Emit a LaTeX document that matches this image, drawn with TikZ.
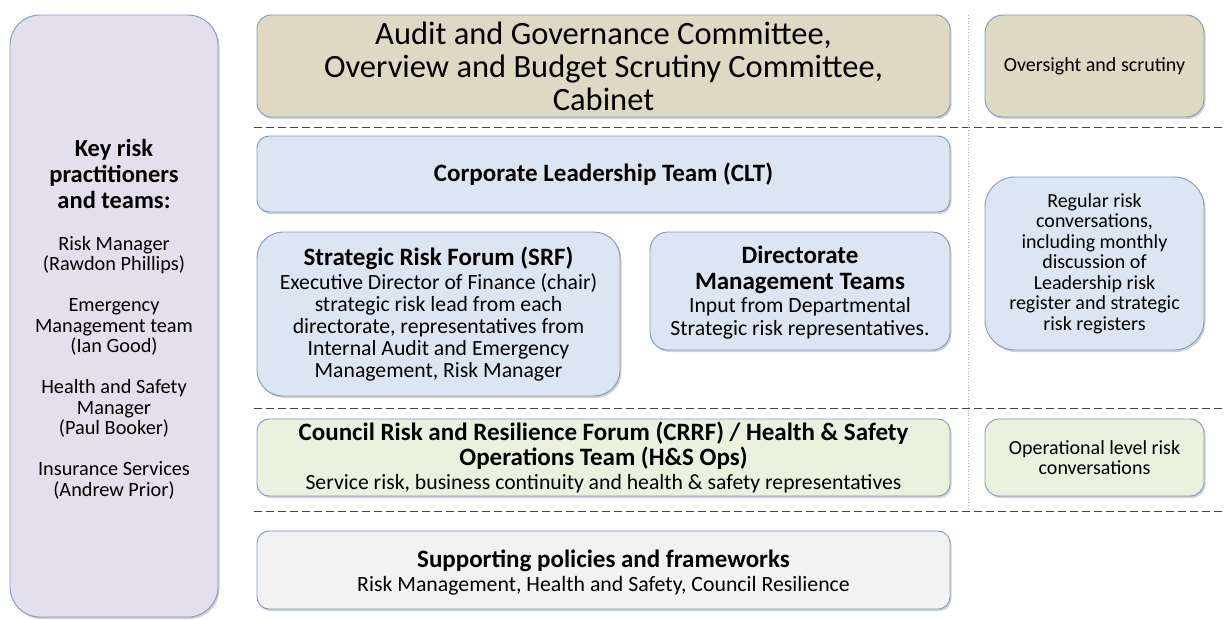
\documentclass[tikz,border=0pt]{standalone}
\usepackage{fontspec}
\setmainfont{Carlito}
\usetikzlibrary{shadows}

\definecolor{boxline}{RGB}{126,153,196}
\definecolor{keyfill}{RGB}{228,223,236}
\definecolor{govfill}{RGB}{221,217,195}
\definecolor{leadfill}{RGB}{220,230,242}
\definecolor{opsfill}{RGB}{235,241,222}
\definecolor{suppfill}{RGB}{242,242,242}
\definecolor{divline}{RGB}{160,180,215}

\newcommand{\keyhead}[1]{\fontsize{24.5}{26}\selectfont\bfseries #1}
\newcommand{\boxhead}[1]{\fontsize{25}{26}\selectfont\bfseries #1}

\tikzset{
  tier/.style={draw=boxline, line width=0.9pt, align=center, inner sep=2pt,
    drop shadow={shadow xshift=1.5pt, shadow yshift=-2pt, fill=black!40, opacity=0.45}},
  levelsep/.style={draw=black!75, line width=1pt, dash pattern=on 8pt off 4pt},
}

\begin{document}
\begin{tikzpicture}[x=1pt, y=-1pt]
  \useasboundingbox (0,0) rectangle (1226,619);
  % left column
  \node[tier, fill=keyfill, rounded corners=30pt, minimum width=208, minimum height=602] (key) at (114,316) {};
  \node[align=center, font=\fontsize{20.3}{20.5}\selectfont, anchor=north] (keytext) at (114,136)
    {\keyhead{Key risk}\\[4pt] \keyhead{practitioners}\\[4pt] \keyhead{and teams:}\\[21pt]
     Risk Manager\\ (Rawdon Phillips)\\[20.5pt]
     Emergency\\ Management team\\ (Ian Good)\\[20.5pt]
     Health and Safety\\ Manager\\ (Paul Booker)\\[20.5pt]
     Insurance Services\\ (Andrew Prior)};
  % governance tier
  \node[tier, fill=govfill, rounded corners=14pt, minimum width=693, minimum height=102,
        font=\fontsize{32.5}{33}\selectfont] (gov) at (603.5,66)
    {Audit and Governance Committee,\\ Overview and Budget Scrutiny Committee,\\ Cabinet};
  \node[tier, fill=govfill, rounded corners=18pt, minimum width=219, minimum height=102,
        font=\fontsize{20}{20.5}\selectfont] (oversight) at (1094.5,66)
    {Oversight and scrutiny};
  % leadership tier
  \node[tier, fill=leadfill, rounded corners=12pt, minimum width=693, minimum height=76,
        font=\fontsize{25}{26}\selectfont\bfseries] (clt) at (603.5,174)
    {Corporate Leadership Team (CLT)};
  \node[tier, fill=leadfill, rounded corners=26pt, minimum width=363, minimum height=164,
        font=\fontsize{21.7}{22}\selectfont] (srf) at (438.5,314)
    {\boxhead{Strategic Risk Forum (SRF)}\\[2pt]
     Executive Director of Finance (chair)\\ strategic risk lead from each\\
     directorate, representatives from\\ Internal Audit and Emergency\\
     Management, Risk Manager};
  \node[tier, fill=leadfill, rounded corners=18pt, minimum width=300, minimum height=118,
        font=\fontsize{21.7}{23}\selectfont] (dmt) at (800,291)
    {\boxhead{\rule{0pt}{20pt}Directorate}\\[3pt] \boxhead{Management Teams}\\
     Input from Departmental\\ Strategic risk representatives.};
  \node[tier, fill=leadfill, rounded corners=30pt, minimum width=219, minimum height=173,
        font=\fontsize{20}{20.5}\selectfont] (regular) at (1094.5,263.5)
    {Regular risk\\ conversations,\\ including monthly\\ discussion of\\
     Leadership risk\\ register and strategic\\ risk registers};
  % operational tier
  \node[tier, fill=opsfill, rounded corners=12pt, minimum width=693, minimum height=77,
        font=\fontsize{21.7}{24.5}\selectfont] (crrf) at (603.5,457.5)
    {\boxhead{Council Risk and Resilience Forum (CRRF) / Health \& Safety}\\
     \boxhead{Operations Team (H\&S Ops)}\\
     Service risk, business continuity and health \& safety representatives};
  \node[tier, fill=opsfill, rounded corners=14pt, minimum width=219, minimum height=77,
        font=\fontsize{20}{20.5}\selectfont] (operational) at (1094.5,457.5)
    {Operational level risk\\ conversations};
  % supporting tier
  \node[tier, fill=suppfill, rounded corners=12pt, minimum width=693, minimum height=78,
        font=\fontsize{21.8}{24}\selectfont] (support) at (603.5,570)
    {\boxhead{\rule{0pt}{23.5pt}Supporting policies and frameworks}\\
     Risk Management, Health and Safety, Council Resilience};
  % level separators
  \coordinate (sepA) at (254,127);
  \coordinate (sepB) at (254,408);
  \coordinate (sepC) at (254,511);
  \draw[levelsep] (sepA) -- (1226,127);
  \draw[levelsep] (sepB) -- (1226,408);
  \draw[levelsep] (sepC) -- (1226,511);
  \draw[divline, line width=0.8pt, dotted] (968,15) -- (968,510);
\end{tikzpicture}
\end{document}
